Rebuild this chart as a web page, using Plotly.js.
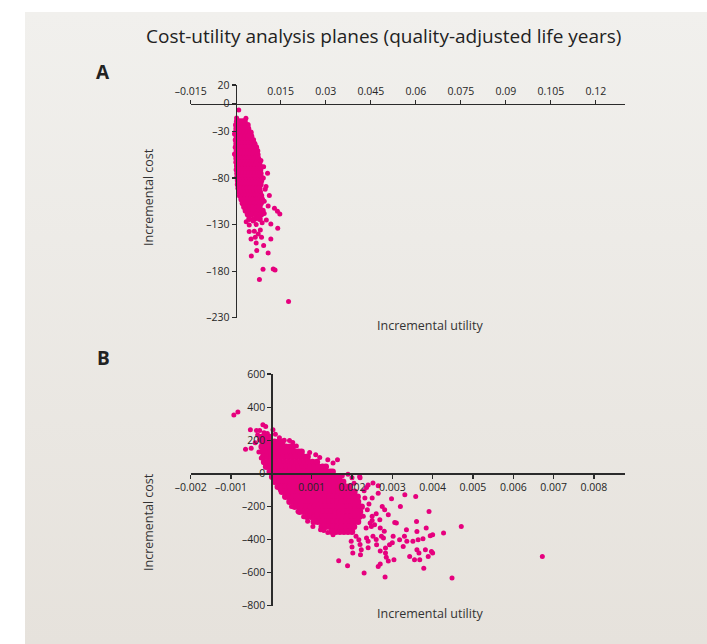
<!DOCTYPE html>
<html><head><meta charset="utf-8">
<script src="https://cdn.plot.ly/plotly-3.0.1.min.js"></script>
<style>
html,body{margin:0;padding:0;background:#fff;}
#bg{position:absolute;left:25px;top:12px;width:682px;height:632px;background:linear-gradient(#f1f0ed,#e6e2dc);}
#chart{position:absolute;left:0;top:0;width:707px;height:644px;}
</style></head><body><div id="bg"></div><div id="chart"></div>
<script>
// ---------- Panel A data (incremental utility, incremental cost) ----------
const aRowY = [-19,-23,-27,-31,-35,-39,-43,-47,-51,-55,-59,-63,-67,-71,-75,-79,-83,-87,-91,-95,-99,-103,-107,-111,-115,-119,-124];
const aRowX = [
 [0.0004,0.0013,0.0022,0.0030],
 [0.0001,0.0010,0.0020,0.0030,0.0040],
 [0.0002,0.0012,0.0022,0.0032,0.0042],
 [0.0000,0.0010,0.0020,0.0030,0.0040,0.0050],
 [0.0003,0.0013,0.0023,0.0033,0.0043,0.0052],
 [0.0000,0.0010,0.0020,0.0030,0.0040,0.0050,0.0058],
 [0.0002,0.0012,0.0022,0.0032,0.0042,0.0052,0.0062],
 [0.0000,0.0010,0.0020,0.0030,0.0040,0.0050,0.0060,0.0068],
 [0.0003,0.0013,0.0023,0.0033,0.0043,0.0053,0.0063,0.0072],
 [0.0000,0.0010,0.0020,0.0030,0.0040,0.0050,0.0060,0.0073],
 [0.0002,0.0012,0.0022,0.0032,0.0042,0.0052,0.0062,0.0075],
 [0.0002,0.0011,0.0021,0.0031,0.0041,0.0051,0.0061,0.0070,0.0079],
 [0.0004,0.0014,0.0024,0.0034,0.0044,0.0054,0.0064,0.0074,0.0081],
 [0.0003,0.0012,0.0022,0.0032,0.0042,0.0052,0.0062,0.0072,0.0082],
 [0.0005,0.0015,0.0025,0.0035,0.0045,0.0055,0.0065,0.0075,0.0083],
 [0.0005,0.0014,0.0024,0.0034,0.0044,0.0054,0.0064,0.0074,0.0084],
 [0.0007,0.0017,0.0027,0.0037,0.0047,0.0057,0.0067,0.0077,0.0085],
 [0.0007,0.0016,0.0026,0.0036,0.0046,0.0056,0.0066,0.0076,0.0083],
 [0.0009,0.0019,0.0029,0.0039,0.0049,0.0059,0.0069,0.0079],
 [0.0011,0.0021,0.0031,0.0041,0.0051,0.0061,0.0071,0.0081],
 [0.0014,0.0024,0.0034,0.0044,0.0054,0.0064,0.0074,0.0085],
 [0.0019,0.0029,0.0039,0.0049,0.0059,0.0069,0.0079,0.0088],
 [0.0023,0.0033,0.0043,0.0053,0.0063,0.0073,0.0084],
 [0.0028,0.0038,0.0048,0.0058,0.0070,0.0080],
 [0.0033,0.0045,0.0060,0.0075,0.0090],
 [0.0040,0.0052,0.0068,0.0085],
 [0.0045,0.0062,0.0080]
];
const aOutX = [0.0010,0.0003,0.0034,-0.0004,-0.0004,0.0064,0.0084,0.0093,0.0106,0.0101,0.0112,0.0129,0.0139,0.0147,0.0117,0.0140,0.0045,0.0082,0.0045,0.0068,0.0051,0.0065,0.0086,0.0117,0.0068,0.0093,0.0070,0.0108,0.0052,0.0091,0.0125,0.0131,0.0079,0.0176,0.0095,0.0098,0.0092,0.0035,0.0058,0.0075,0.0095,0.0102,0.0108,0.0088,0.0062,0.0075];
const aOutY = [-6.8,-15.4,-15.8,-32.6,-54,-43.3,-61,-67.7,-74.8,-89,-98.8,-112.4,-115.6,-118.5,-129.3,-133.9,-130.3,-135.7,-137.5,-130,-145.4,-143.6,-143.6,-145.4,-149.7,-152.5,-157.9,-160.4,-163.6,-178,-177.6,-178.7,-189,-212.7,-105,-92,-80,-127,-126,-122,-118,-125,-110,-128,-137,-140];

// ---------- Panel B data ----------
const bRowY = [220,190,160,130,100,69,39,9,-21,-51,-82,-112,-142,-172,-202,-233,-263,-293,-323,-353];
const bRowX = [
 [-0.00024,-0.00014,-0.00004],
 [-0.00022,-0.00012,-0.00002,0.00008,0.00018,0.00027],
 [-0.00024,-0.00014,-0.00004,0.00006,0.00016,0.00026,0.00036,0.00046,0.00053],
 [-0.00022,-0.00012,-0.00002,0.00008,0.00018,0.00028,0.00038,0.00048,0.00058,0.00068,0.00075],
 [-0.0002,-0.0001,0.0,0.0001,0.0002,0.0003,0.0004,0.0005,0.0006,0.0007,0.0008,0.0009],
 [-0.00018,-0.00008,0.00002,0.00012,0.00022,0.00032,0.00042,0.00052,0.00062,0.00072,0.00082,0.00092,0.00102,0.00113],
 [-0.00013,-0.00003,0.00007,0.00017,0.00027,0.00037,0.00047,0.00057,0.00067,0.00077,0.00087,0.00097,0.00107,0.00117,0.00127,0.00135],
 [-0.00004,0.00006,0.00016,0.00026,0.00036,0.00046,0.00056,0.00066,0.00076,0.00086,0.00096,0.00106,0.00116,0.00126,0.00136,0.00146,0.00152],
 [0.00002,0.00012,0.00022,0.00032,0.00042,0.00052,0.00062,0.00072,0.00082,0.00092,0.00102,0.00112,0.00122,0.00132,0.00142,0.00152,0.00162,0.00169],
 [0.00008,0.00018,0.00028,0.00038,0.00048,0.00058,0.00068,0.00078,0.00088,0.00098,0.00108,0.00118,0.00128,0.00138,0.00148,0.00158,0.00168,0.00178],
 [0.00016,0.00026,0.00036,0.00046,0.00056,0.00066,0.00076,0.00086,0.00096,0.00106,0.00116,0.00126,0.00136,0.00146,0.00156,0.00166,0.00176,0.00186,0.00194],
 [0.00026,0.00036,0.00046,0.00056,0.00066,0.00076,0.00086,0.00096,0.00106,0.00116,0.00126,0.00136,0.00146,0.00156,0.00166,0.00176,0.00186,0.00196,0.00206],
 [0.00035,0.00045,0.00055,0.00065,0.00075,0.00085,0.00095,0.00105,0.00115,0.00125,0.00135,0.00145,0.00155,0.00165,0.00175,0.00185,0.00195,0.00205,0.00214],
 [0.00045,0.00055,0.00065,0.00075,0.00085,0.00095,0.00105,0.00115,0.00125,0.00135,0.00145,0.00155,0.00165,0.00175,0.00185,0.00195,0.00205,0.00215],
 [0.00058,0.00068,0.00078,0.00088,0.00098,0.00108,0.00118,0.00128,0.00138,0.00148,0.00158,0.00168,0.00178,0.00188,0.00198,0.00208,0.00218,0.00224],
 [0.0007,0.0008,0.0009,0.001,0.0011,0.0012,0.0013,0.0014,0.0015,0.0016,0.0017,0.0018,0.0019,0.002,0.0021,0.0022],
 [0.00088,0.00098,0.00108,0.00118,0.00128,0.00138,0.00148,0.00158,0.00168,0.00178,0.00188,0.00198,0.00208,0.00218],
 [0.00105,0.00115,0.00125,0.00135,0.00145,0.00155,0.00165,0.00175,0.00185,0.00195,0.00205,0.00215],
 [0.00125,0.00135,0.00145,0.00155,0.00165,0.00175,0.00185,0.00195,0.00205],
 [0.0015,0.0016,0.0017,0.0018,0.0019,0.002]
];
const bOutX = [-0.00093,-0.00083,-0.00064,-0.00052,-0.0005,-0.00037,-0.00029,-0.00021,-0.00014,0.00004,-0.00029,-0.00025,-0.0004,-0.00034,-0.00031,-0.00018,-0.0001,0.0001,0.0002,0.00032,
 0.00053,0.00045,0.00062,0.00095,0.0011,0.0014,0.00164,0.00153,0.0012,0.00176,0.002,0.0022,0.00236,0.00252,0.00265,0.00219,0.0024,0.00265,0.0023,0.0025,0.00242,0.0026,0.0025,0.00235,0.00228,0.0019,0.00205,0.00232,0.00238,0.00245,
 0.00033,0.00066,0.00103,0.00112,0.00122,0.0014,0.00153,0.00022,0.0005,0.0009,0.0008,0.00174,0.0013,
 0.00167,0.00189,0.00198,0.00202,0.00217,0.00221,0.00223,0.0023,0.00236,0.0024,0.00248,0.00252,0.00256,0.00261,0.00265,0.0027,0.00269,0.00273,0.00275,0.00278,0.00281,0.00283,0.00283,0.00285,0.00282,0.00293,0.00298,0.00302,0.00304,0.00306,0.00318,0.00327,0.00331,0.00335,0.00336,0.00343,0.00351,0.00355,0.00358,0.0036,0.00361,0.00364,0.00361,0.00366,0.00368,0.00376,0.00378,0.00382,0.00384,0.00389,0.00391,0.00394,0.00397,0.004,0.004,0.00427,0.00448,0.00471,0.00672,
 0.0025,0.0027,0.0029,0.0031,0.0028,0.0026,0.0032,0.003,0.0024,0.0022,0.0021,0.002,0.0027,0.0033,0.0029];
const bOutY = [353,370,146,263,152,258,258,293,283,263,202,92,185,232,128,245,240,236,215,200,
 186,198,165,126,112,82,82,62,96,-15,-27,-27,-86,-59,-75,-19,-70,-120,-105,-150,-185,-245,-285,-330,-260,-5,-60,-150,-220,-300,
 -140,-231,-321,-251,-341,-357,-371,-100,-200,-290,-262,-351,-345,
 -528,-558,-411,-482,-401,-492,-462,-603,-391,-411,-321,-381,-311,-432,-563,-548,-281,-381,-201,-391,-220,-452,-482,-508,-627,-432,-154,-381,-523,-297,-402,-442,-130,-341,-411,-502,-411,-523,-140,-291,-351,-402,-462,-482,-523,-396,-573,-462,-331,-502,-231,-377,-472,-371,-482,-361,-633,-321,-502,
 -260,-330,-250,-300,-350,-400,-200,-420,-450,-430,-380,-445,-470,-380,-530];

// ---------- Axis ticks ----------
const aXTicks = [-0.015,0.015,0.03,0.045,0.06,0.075,0.09,0.105,0.12];
const aXTickText = ['\u20130.015','0.015','0.03','0.045','0.06','0.075','0.09','0.105','0.12'];
const aYTicks = [20,0,-30,-80,-130,-180,-230];
const aYTickText = ['20','0','\u201330','\u201380','\u2013130','\u2013180','\u2013230'];
const bXTicks = [-0.002,-0.001,0.001,0.002,0.003,0.004,0.005,0.006,0.007,0.008];
const bXTickText = ['\u20130.002','\u20130.001','0.001','0.002','0.003','0.004','0.005','0.006','0.007','0.008'];
const bYTicks = [600,400,200,0,-200,-400,-600,-800];
const bYTickText = ['600','400','200','0','\u2013200','\u2013400','\u2013600','\u2013800'];

const titleText = 'Cost-utility analysis planes (quality-adjusted life years)';
const xTitle = 'Incremental utility';
const yTitle = 'Incremental cost';

// ---------- Build traces ----------
function flattenRows(rowY, rowX){
  const xs = [], ys = [];
  rowX.forEach((row,i)=>row.forEach(v=>{xs.push(v); ys.push(rowY[i]);}));
  return {xs, ys};
}
const Acore = flattenRows(aRowY, aRowX);
const Bcore = flattenRows(bRowY, bRowX);
const PINK = '#e6007e';
const mkOut = {color: PINK, size: 5, symbol: 'circle', line: {width: 0}};
const mkCoreA = {color: PINK, size: 6, symbol: 'circle', line: {width: 0}};
const mkCoreB = {color: PINK, size: 6.5, symbol: 'circle', line: {width: 0}};
const traces = [
  {type:'scatter', mode:'markers', x:Acore.xs, y:Acore.ys, xaxis:'x', yaxis:'y', marker:mkCoreA, hoverinfo:'skip'},
  {type:'scatter', mode:'markers', x:aOutX, y:aOutY, xaxis:'x', yaxis:'y', marker:mkOut, hoverinfo:'skip'},
  {type:'scatter', mode:'markers', x:Bcore.xs, y:Bcore.ys, xaxis:'x2', yaxis:'y2', marker:mkCoreB, hoverinfo:'skip'},
  {type:'scatter', mode:'markers', x:bOutX, y:bOutY, xaxis:'x2', yaxis:'y2', marker:mkOut, hoverinfo:'skip'}
];

// ---------- Layout ----------
const W = 707, H = 644;
const px = v => v / W;
const py = v => 1 - v / H;
const aXRange = [-0.015, 0.1297], aYRange = [-230, 20];
const bXRange = [-0.002, 0.00877], bYRange = [-800, 600];
const xDom = [px(190.7), px(625)];
const aYDom = [py(317.7), py(85)];
const bYDom = [py(605.7), py(374)];
const zeroPos = (dom, r) => dom[0] + (0 - r[0]) / (r[1] - r[0]) * (dom[1] - dom[0]);

const FONT = 'Open Sans, Noto Sans, sans-serif';
const tickFont = {family: FONT, size: 10.5, color: '#262626'};
const axCommon = {showgrid:false, zeroline:false, showline:true, linecolor:'#2b2b2b', linewidth:1.3,
  ticks:'outside', ticklen:4, tickwidth:1.2, tickcolor:'#2b2b2b', tickfont:tickFont, tickmode:'array', fixedrange:true};

const layout = {
  width: W, height: H, margin: {l:0, r:0, t:0, b:0},
  paper_bgcolor: 'rgba(0,0,0,0)', plot_bgcolor: 'rgba(0,0,0,0)',
  showlegend: false,
  xaxis: Object.assign({}, axCommon, {domain:xDom, range:aXRange, anchor:'free', position:zeroPos(aYDom, aYRange), side:'top',
    tickvals:aXTicks, ticktext:aXTickText}),
  yaxis: Object.assign({}, axCommon, {domain:aYDom, range:aYRange, anchor:'free', position:zeroPos(xDom, aXRange), side:'left',
    tickvals:aYTicks, ticktext:aYTickText}),
  xaxis2: Object.assign({}, axCommon, {domain:xDom, range:bXRange, anchor:'free', position:zeroPos(bYDom, bYRange), side:'bottom',
    tickvals:bXTicks, ticktext:bXTickText}),
  yaxis2: Object.assign({}, axCommon, {domain:bYDom, range:bYRange, anchor:'free', position:zeroPos(xDom, bXRange), side:'left',
    tickvals:bYTicks, ticktext:bYTickText}),
  annotations: [
    {text:titleText, xref:'paper', yref:'paper', x:px(383), y:py(36), showarrow:false, xanchor:'center', yanchor:'middle',
      font:{family:FONT, size:19, color:'#222'}},
    {text:'<b>A</b>', xref:'paper', yref:'paper', x:px(103), y:py(72), showarrow:false, xanchor:'center', yanchor:'middle',
      font:{family:FONT, size:19, color:'#222'}},
    {text:'<b>B</b>', xref:'paper', yref:'paper', x:px(103), y:py(358), showarrow:false, xanchor:'center', yanchor:'middle',
      font:{family:FONT, size:19, color:'#222'}},
    {text:yTitle, xref:'paper', yref:'paper', x:px(148), y:py(197), textangle:-90, showarrow:false, xanchor:'center', yanchor:'middle',
      font:{family:FONT, size:12.5, color:'#333'}},
    {text:xTitle, xref:'paper', yref:'paper', x:px(430), y:py(325), showarrow:false, xanchor:'center', yanchor:'middle',
      font:{family:FONT, size:12.5, color:'#333'}},
    {text:yTitle, xref:'paper', yref:'paper', x:px(148), y:py(522), textangle:-90, showarrow:false, xanchor:'center', yanchor:'middle',
      font:{family:FONT, size:12.5, color:'#333'}},
    {text:xTitle, xref:'paper', yref:'paper', x:px(430), y:py(613), showarrow:false, xanchor:'center', yanchor:'middle',
      font:{family:FONT, size:12.5, color:'#333'}}
  ]
};
Plotly.newPlot('chart', traces, layout, {staticPlot:true, displayModeBar:false});
</script></body></html>
